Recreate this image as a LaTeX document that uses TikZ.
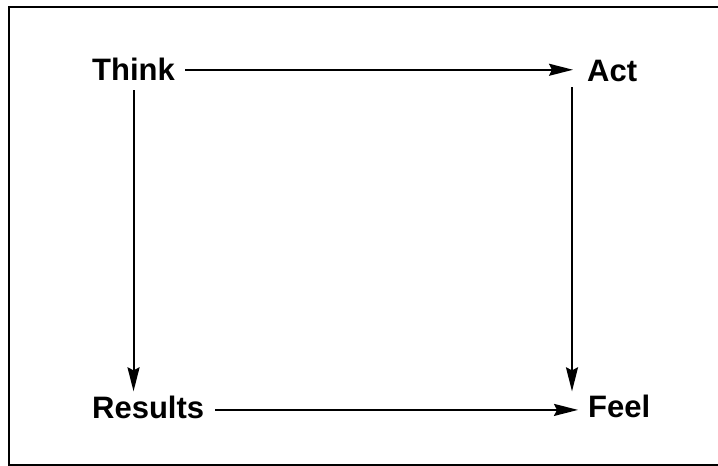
\documentclass[tikz,border=0pt]{standalone}
\usepackage{fontspec}
\setmainfont{Liberation Sans}
\usetikzlibrary{arrows.meta,calc}
\tikzset{
  lbl/.style={inner sep=0pt, anchor=base west, font=\fontsize{31}{37}\selectfont\bfseries},
  arr/.style={line width=2pt, -{Stealth[length=24pt,width=12pt,inset=3pt]}},
  frame/.style={line width=2pt}
}
\begin{document}
\begin{tikzpicture}[x=1pt,y=1pt]
\useasboundingbox (0,0) rectangle (718,466);
\draw[frame] (740,459) -- (9,459) -- (9,1) -- (740,1);
\node[lbl] (think) at (92,385) {Think};
\node[lbl] (act) at (587,384) {Act};
\node[lbl] (results) at (92,47) {Results};
\node[lbl] (feel) at (588,48) {Feel};
\draw[arr, shorten <=10pt, shorten >=14pt] (think.east) -- (think.east -| act.west);
\draw[arr, shorten <=9pt, shorten >=5pt] (think.south) -- (think.south |- results.north);
\draw[arr, shorten <=5pt, shorten >=4pt] ([xshift=-15pt]act.south west) -- ([xshift=-15pt]act.south west |- feel.north);
\draw[arr, shorten <=11pt, shorten >=10pt] ([yshift=-2pt]results.east) -- ([yshift=-2pt]results.east -| feel.west);
\end{tikzpicture}
\end{document}
